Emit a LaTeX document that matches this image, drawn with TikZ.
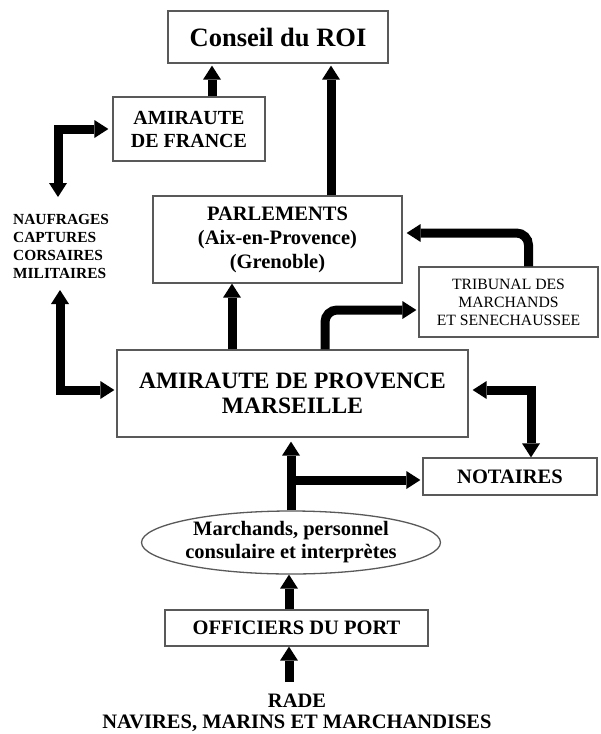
\documentclass[tikz,border=0pt]{standalone}
\usepackage{fontspec}
\setmainfont{Liberation Serif}
\usetikzlibrary{arrows.meta,shapes.geometric}
\newcommand\myfs[2]{\fontsize{#1}{#2}\selectfont}
\tikzset{
  box/.style={draw=black!65, line width=1.3pt, inner sep=0pt, align=center, font=\bfseries\myfs{20.5}{24}},
  headtip/.tip={Triangle[width=18pt,length=14pt,line width=0pt]},
  fat/.style={line width=9pt, -headtip},
  fatboth/.style={line width=9pt, headtip-headtip},
}
\begin{document}
\begin{tikzpicture}[x=1pt,y=-1pt]
\useasboundingbox (0,0) rectangle (601,734);
\fill[white] (0,0) rectangle (601,734);
% nodes
\node[box, minimum width=220pt, minimum height=52pt, font=\bfseries\myfs{26.5}{30}] (conseil) at (278,37) {Conseil du ROI};
\node[box, minimum width=152pt, minimum height=64pt, font=\bfseries\myfs{20}{23}] (af) at (189,129) {AMIRAUTE\\DE FRANCE};
\node[box, minimum width=249pt, minimum height=87pt, font=\bfseries\myfs{20.5}{24}] (parl) at (277.5,239.5) {PARLEMENTS\\(Aix-en-Provence)\\(Grenoble)};
\node[box, minimum width=179pt, minimum height=70pt, font=\myfs{15.7}{18}] (trib) at (508.5,302) {TRIBUNAL DES\\MARCHANDS\\ET SENECHAUSSEE};
\node[box, minimum width=351pt, minimum height=87pt, font=\bfseries\myfs{23.5}{25}] (ap) at (292.5,393.5) {AMIRAUTE DE PROVENCE\\MARSEILLE};
\node[box, minimum width=174pt, minimum height=37pt] (not) at (510,476.5) {NOTAIRES};
\node[box, ellipse, minimum width=298pt, minimum height=63pt, font=\bfseries\myfs{20.5}{23}] (ell) at (291,542.5) {Marchands, personnel\\consulaire et interprètes};
\node[box, minimum width=263pt, minimum height=36pt] (off) at (296.5,628) {OFFICIERS DU PORT};
\node[font=\bfseries\myfs{20.5}{21}, align=center, inner sep=0pt] (rade) at (297,712.5) {RADE\\NAVIRES, MARINS ET MARCHANDISES};
\node[font=\bfseries\myfs{15.4}{18}, align=left, anchor=west, inner sep=0pt] (nauf) at (13,246.5) {NAUFRAGES\\CAPTURES\\CORSAIRES\\MILITAIRES};
% connectors
\coordinate (a1) at ([xshift=23pt]af.north);
\draw[fat, shorten >=2pt] (a1) -- (a1 |- conseil.south);
\coordinate (p1) at ([xshift=53.5pt]parl.north);
\draw[fat, shorten >=2pt] (p1) -- (p1 |- conseil.south);
\coordinate (ap1) at ([xshift=-60.5pt]ap.north);
\draw[fat] (ap1) -- (ap1 |- parl.south);
\coordinate (ap2) at ([xshift=32.5pt]ap.north);
\draw[fat, rounded corners=12pt, shorten >=2pt] (ap2) |- ([yshift=-8pt]trib.west);
\coordinate (t1) at ([xshift=20pt]trib.north);
\draw[fat, rounded corners=12pt, shorten >=4pt] (t1) |- ([yshift=6.5pt]parl.east);
\coordinate (nt) at (58,197);
\draw[fatboth, shorten >=4pt] (nt) |- (af.west);
\coordinate (nb) at (60,290);
\draw[fatboth, shorten >=2pt] (nb) |- ([yshift=3.5pt]ap.west);
\draw[fatboth, shorten <=4pt] ([yshift=3.5pt]ap.east) -| ([xshift=21pt]not.north);
\draw[fat, shorten >=4pt] (ell.north) -- (ell.north |- ap.south);
\coordinate (br) at ([yshift=-3.5pt]ell.north |- not.west);
\draw[fat, shorten >=2pt] (br) -- (br -| not.west);
\coordinate (o1) at ([xshift=-7.5pt]off.north);
\draw[fat] (o1) -- (o1 |- ell.south);
\coordinate (r1) at (289,682);
\draw[fat] (r1) -- (r1 |- off.south);
\end{tikzpicture}
\end{document}
